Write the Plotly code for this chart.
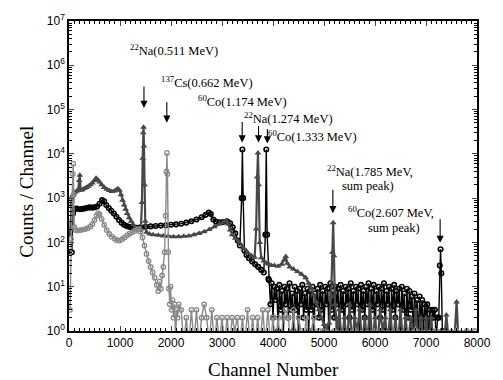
import plotly.graph_objects as go

# ---------------- data ----------------
# 60Co spectrum (black, open circles)
co_ch = [55, 80, 110, 150, 200, 250, 300, 350, 400, 450, 500, 550, 600, 650, 690, 730, 780, 830,
         880, 930, 980, 1030, 1080, 1130, 1180, 1230, 1280, 1330, 1400, 1500, 1600, 1700, 1800,
         1900, 2000, 2100, 2200, 2300, 2400, 2500, 2600, 2680, 2740, 2780, 2830, 2880, 2950, 3020,
         3100, 3160, 3210, 3260, 3310, 3350, 3385, 3400, 3415, 3440, 3480, 3530, 3590, 3650, 3710,
         3770, 3820, 3850, 3868, 3885, 3910,
         3925, 3950, 3975, 4000, 4025, 4050, 4075, 4100, 4125, 4150,
         4175, 4200, 4225, 4250, 4275, 4300, 4325, 4350, 4375, 4400,
         4425, 4450, 4475, 4500, 4525, 4550, 4575, 4600, 4625, 4650,
         4675, 4700, 4725, 4750, 4775, 4800, 4825, 4850, 4875, 4900,
         4925, 4950, 4975, 5000, 5025, 5050, 5075, 5100, 5125, 5150,
         5175, 5200, 5225, 5250, 5275, 5300, 5325, 5350, 5375, 5400,
         5425, 5450, 5475, 5500, 5525, 5550, 5575, 5600, 5625, 5650,
         5675, 5700, 5725, 5750, 5775, 5800, 5825, 5850, 5875, 5900,
         5925, 5950, 5975, 6000, 6025, 6050, 6075, 6100, 6125, 6150,
         6175, 6200, 6225, 6250, 6275, 6300, 6325, 6350, 6375, 6400,
         6425, 6450, 6475, 6500, 6525, 6550, 6575, 6600, 6625, 6650,
         6675, 6700, 6725, 6750, 6775, 6800, 6825, 6850, 6875, 6900,
         6925, 6950, 6975, 7000, 7025, 7050, 7075, 7100, 7125, 7150,
         7175, 7200, 7225, 7250, 7270, 7285, 7300, 7320]
co_val = [60, 450, 560, 580, 560, 570, 580, 600, 620, 610, 620, 650, 750, 900, 850, 700, 600, 520,
          450, 380, 320, 280, 250, 235, 225, 220, 215, 215, 220, 225, 230, 235, 240,
          245, 250, 255, 265, 280, 300, 330, 370, 420, 470, 440, 330, 295, 285, 290,
          300, 270, 220, 160, 110, 85, 1000, 12500, 1000, 65, 52, 44, 37, 32, 28,
          24, 21, 150, 12500, 150, 15,
          14, 4, 12, 2, 10, 5, 9, 1, 11, 3,
          8, 0.5, 10, 4, 9, 2, 12, 3, 7, 1,
          10, 3, 8, 0.5, 9, 4, 11, 2, 7, 3,
          9, 1, 8, 3, 10, 0.5, 7, 4, 9, 2,
          11, 3, 8, 1, 10, 4, 9, 0.5, 12, 3,
          8, 2, 10, 4, 9, 1, 11, 3, 8, 0.5,
          10, 4, 9, 2, 12, 3, 8, 1, 10, 4,
          9, 0.5, 11, 3, 8, 2, 10, 4, 12, 1,
          9, 3, 11, 0.5, 8, 4, 10, 2, 9, 3,
          12, 1, 8, 4, 10, 0.5, 9, 3, 11, 2,
          8, 4, 9, 1, 10, 3, 7, 0.5, 9, 2,
          8, 3, 6, 1, 7, 2, 5, 0.5, 6, 2,
          5, 1, 4, 2, 4, 0.5, 3, 1, 3, 2,
          3, 0.5, 2, 2, 30, 70, 20, 1]

# 22Na spectrum (dark grey, triangles)
na_ch = [20, 40, 60, 90, 120, 150, 180, 200, 212, 228, 260, 300, 340, 380, 420, 460, 500, 530,
         560, 600, 640, 690, 740, 790, 840, 890, 930, 960, 990, 1020, 1050, 1080, 1110, 1140,
         1180, 1220, 1260, 1300, 1340, 1380, 1410, 1430, 1445, 1455, 1462, 1470, 1480, 1495,
         1520, 1580, 1650, 1750, 1850, 1950, 2050, 2150, 2250, 2350, 2450, 2550, 2650, 2750,
         2850, 2950, 3020, 3080, 3120, 3160, 3200, 3260, 3340, 3420, 3500, 3580, 3640, 3670,
         3690, 3705, 3720, 3740, 3770, 3820, 3870, 3920, 3970, 4030, 4100, 4170, 4220, 4250,
         4280, 4330, 4400, 4480, 4560, 4640, 4700, 4750, 4800, 4850, 4900, 4950, 5000, 5050,
         5100, 5140, 5165, 5180, 5195, 5215, 5240, 5250, 5300, 5350, 5400, 5450, 5500, 5550,
         5600, 5650, 5700, 5750, 5800, 5850, 5900, 5950, 6000, 6050, 6100, 6150, 6200, 6250,
         6300, 6350, 6400, 6450, 6500, 6550, 6600, 6650, 6700, 6750, 6800, 6850, 6900, 6950,
         7000, 7050, 7100, 7150, 7200, 7250, 7300, 7350, 7400, 7450, 7500, 7550, 7600, 7640]
na_val = [150, 700, 1100, 1250, 1350, 1450, 1500, 2500, 3300, 1500, 1550, 1650, 1750, 1850, 2000,
          2200, 2500, 2800, 2650, 2300, 2000, 1750, 1580, 1480, 1420, 1450, 1550, 1620, 1500,
          1200, 900, 700, 560, 450, 360, 300, 250, 220, 200, 185, 200, 800, 8000, 30000, 40000,
          15000, 2000, 300, 170, 155, 150, 145, 140, 137, 135, 135, 137, 140, 150, 160, 175, 195,
          225, 260, 290, 310, 260, 190, 150, 125, 100, 75, 60, 50, 46, 200, 3000, 10500, 2000,
          100, 45, 38, 34, 32, 30, 30, 29, 32, 40, 48, 34, 28, 25, 22, 19, 16, 12, 9, 6.5, 4.5,
          3, 2, 1.4, 1.1, 1.5, 6, 60, 280, 50, 4, 2, 0.5, 3, 0.5, 2, 0.5, 4, 0.5,
          2, 1, 3, 0.5, 2, 0.5, 4, 0.5, 2, 0.5, 3, 1, 2, 0.5,
          3, 0.5, 2, 0.5, 3, 0.5, 2, 0.5, 2, 0.5, 3, 0.5, 2, 0.5,
          2, 0.5, 2, 0.5, 1, 0.5, 1, 0.5, 2.3, 0.5, 1, 0.5, 4.5, 0.5]

# 137Cs spectrum (light grey, open circles)
cs_ch = [20, 40, 60, 75, 83, 92, 105, 130, 170, 220, 270, 320, 370, 420, 460, 500, 540, 570, 600,
         640, 690, 740, 790, 840, 890, 940, 990, 1040, 1090, 1140, 1190, 1240, 1290, 1340, 1370,
         1400, 1440, 1480, 1520, 1560, 1600, 1640, 1680, 1720, 1750, 1775, 1800, 1825, 1850,
         1875, 1895, 1910, 1920, 1930, 1945, 1960, 1975, 1990, 2010, 2030, 2050, 2070, 2090,
         2110, 2130, 2150, 2200, 2250, 2300, 2350, 2400, 2450, 2500, 2550, 2600, 2650, 2700,
         2750, 2800, 2850, 2900, 2950, 3000, 3050, 3100, 3150, 3200, 3250, 3300, 3350, 3400,
         3450, 3500, 3550, 3600, 3650, 3700, 3750, 3800, 3850, 3900, 3950, 4000, 4050, 4100,
         4150, 4200, 4250, 4300, 4350, 4400, 4450, 4500, 4550, 4600, 4650, 4700, 4750, 4800,
         4850, 4900, 4950, 5000, 5200, 5600, 6000, 6400, 6800, 7200, 7600, 7800, 7950]
cs_val = [3, 120, 900, 3500, 6000, 1200, 220, 190, 185, 190, 195, 200, 210, 230, 260, 320, 400,
          460, 430, 340, 250, 190, 155, 135, 122, 112, 110, 118, 130, 145, 158, 170, 182, 195,
          200, 175, 130, 85, 55, 38, 28, 21, 16, 11, 8, 13, 9, 18, 28, 60, 400, 4000, 10500,
          3500, 60, 9, 4, 10, 3, 5, 2, 4, 0.5, 3, 2, 4, 3, 0.5, 2, 0.5, 3, 0.5, 3, 0.5,
          2, 4, 2, 0.5, 3, 0.5, 2, 0.5, 2, 0.5, 2, 0.5, 2, 1, 2, 0.5, 2, 0.5, 3, 0.5,
          2, 0.5, 2, 0.5, 3, 0.5, 3, 0.5, 2, 0.5, 2, 0.5, 2, 3, 2, 0.5, 3, 0.5, 2, 1,
          0.5, 2, 0.5, 1, 2, 0.5, 1, 0.5, 1, 1, 1, 1, 1, 1, 1, 1, 1, 1]

# axis ticks
x_ticks = [0, 1000, 2000, 3000, 4000, 5000, 6000, 7000, 8000]
y_exponents = [0, 1, 2, 3, 4, 5, 6, 7]

# peak labels: (text, channel, log10 count)
labels = [
    ("<sup>22</sup>Na(0.511 MeV)", 2062, 6.34),
    ("<sup>137</sup>Cs(0.662 MeV)", 2705, 5.633),
    ("<sup>60</sup>Co(1.174 MeV)", 3405, 5.187),
    ("<sup>22</sup>Na(1.274 MeV)", 4297, 4.815),
    ("<sup>60</sup>Co(1.333 MeV)", 4777, 4.407),
    ("<sup>22</sup>Na(1.785 MeV,", 5899, 3.622),
    ("sum peak)", 5870, 3.266),
    ("<sup>60</sup>Co(2.607 MeV,", 6312, 2.697),
    ("sum peak)", 6369, 2.329),
]
# arrows: (channel, log10 count of head, length px)
arrows = [(1470, 5.038, 23), (1918, 4.704, 22), (3396, 4.258, 22), (3716, 4.258, 18),
          (3890, 4.235, 16), (5174, 2.659, 25), (7277, 1.991, 25)]

# ---------------- figure ----------------
fig = go.Figure()
fig.add_trace(go.Scatter(x=co_ch, y=co_val, mode="lines+markers",
                         line=dict(color="#000000", width=1.4),
                         marker=dict(symbol="circle-open", size=4.5, color="#000000", line=dict(width=1.6))))
fig.add_trace(go.Scatter(x=na_ch, y=na_val, mode="lines+markers",
                         line=dict(color="#484848", width=2.2),
                         marker=dict(symbol="triangle-up", size=6, color="#484848")))
fig.add_trace(go.Scatter(x=cs_ch, y=cs_val, mode="lines+markers",
                         line=dict(color="#8a8a8a", width=1.4),
                         marker=dict(symbol="circle-open", size=4.5, color="#8a8a8a", line=dict(width=1.3))))

tickfont = dict(family="Liberation Sans, Arial, sans-serif", size=12, color="black")
serif = "Liberation Serif, Times New Roman, serif"

minor_y = [m * 10 ** e for e in range(0, 7) for m in range(2, 10)]

fig.update_xaxes(range=[0, 8000], tickvals=x_ticks, ticks="inside", ticklen=5, tickwidth=1,
                 mirror="allticks", showline=True, linecolor="black", linewidth=1.5,
                 showgrid=False, zeroline=False, tickfont=tickfont,
                 minor=dict(dtick=100, ticks="inside", ticklen=3, tickcolor="black", showgrid=False))
fig.update_yaxes(type="log", range=[0, 7], tickvals=[10 ** e for e in y_exponents],
                 ticktext=["10<sup>%d</sup>" % e for e in y_exponents],
                 ticks="inside", ticklen=5, tickwidth=1,
                 mirror="allticks", showline=True, linecolor="black", linewidth=1.5,
                 showgrid=False, zeroline=False, tickfont=tickfont,
                 minor=dict(tickmode="array", tickvals=minor_y, ticks="inside", ticklen=3,
                            tickcolor="black", showgrid=False))

annots = []
for txt, x, y in labels:
    annots.append(dict(text=txt, x=x, y=y, xref="x", yref="y", showarrow=False,
                       font=dict(family=serif, size=12.5, color="black"),
                       xanchor="center", yanchor="middle"))
for x, y, ln in arrows:
    annots.append(dict(text="", x=x, y=y, xref="x", yref="y", showarrow=True,
                       ax=0, ay=-ln, arrowhead=2, arrowsize=1.3, arrowwidth=1.1, arrowcolor="black"))
annots.append(dict(text="Channel Number", x=0.5, y=-0.124, xref="paper", yref="paper",
                   showarrow=False, font=dict(family=serif, size=19, color="black"),
                   xanchor="center", yanchor="middle"))
annots.append(dict(text="Counts / Channel", x=-0.103, y=0.449, xref="paper", yref="paper",
                   showarrow=False, textangle=-90, font=dict(family=serif, size=19, color="black"),
                   xanchor="center", yanchor="middle"))

fig.update_layout(width=503, height=380, margin=dict(l=69, r=17, t=17, b=49),
                  paper_bgcolor="white", plot_bgcolor="white", showlegend=False,
                  annotations=annots)

fig.write_html("out.html", config={"displayModeBar": False},
               post_script="document.body.style.margin='0';document.body.style.padding='0';")
